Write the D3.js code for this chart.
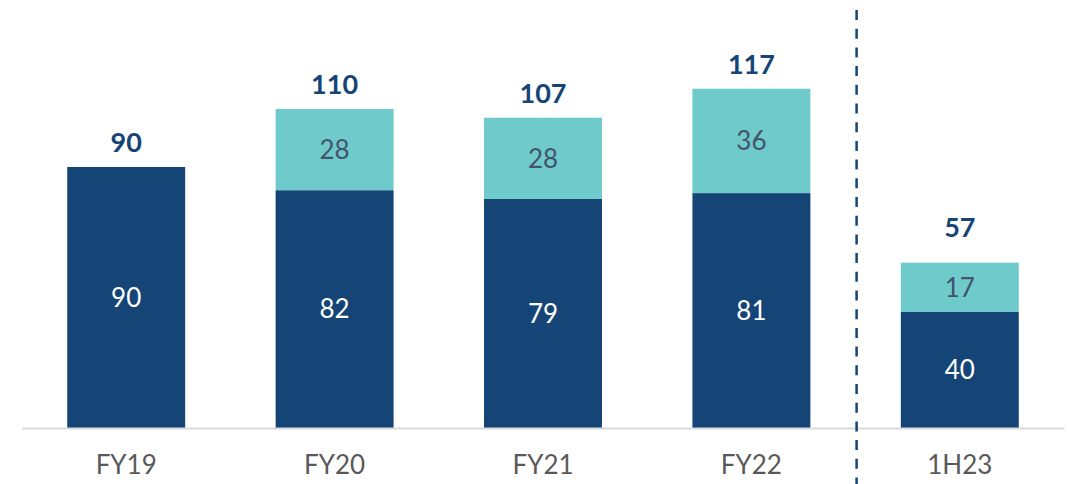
<!DOCTYPE html>
<html>
<head>
<meta charset="utf-8">
<script src="https://cdn.jsdelivr.net/npm/d3@7"></script>
<style>
  body { margin: 0; background: #fff; }
  text { font-family: Lato, "Open Sans", sans-serif; }
</style>
</head>
<body>
<div id="chart"></div>
<script>
var categories = ['FY19', 'FY20', 'FY21', 'FY22', '1H23'];
var baseValues = [90, 82, 79, 81, 40];
var topValues = [0, 28, 28, 36, 17];
var totals = [90, 110, 107, 117, 57];

var width = 1071;
var height = 484;
var baseline = 428;

var navy = '#154577';
var teal = '#6ECACB';

var svg = d3.select('#chart')
    .append('svg')
    .attr('width', width)
    .attr('height', height);

var xScale = d3.scaleBand()
    .domain(categories)
    .range([22, 1064])
    .paddingInner(0.434)
    .paddingOuter(0.217);

var yScale = d3.scaleLinear()
    .domain([0, 140])
    .range([baseline, baseline - 406]);

// bottom (navy) segments
svg.selectAll('rect.base')
    .data(categories)
    .enter()
    .append('rect')
    .attr('class', 'base')
    .attr('x', function (d) { return xScale(d); })
    .attr('width', xScale.bandwidth())
    .attr('y', function (d, i) { return yScale(baseValues[i]); })
    .attr('height', function (d, i) { return yScale(0) - yScale(baseValues[i]); })
    .attr('fill', navy);

// top (teal) segments
svg.selectAll('rect.top')
    .data(categories)
    .enter()
    .append('rect')
    .attr('class', 'top')
    .attr('x', function (d) { return xScale(d); })
    .attr('width', xScale.bandwidth())
    .attr('y', function (d, i) { return yScale(baseValues[i] + topValues[i]); })
    .attr('height', function (d, i) { return yScale(baseValues[i]) - yScale(baseValues[i] + topValues[i]); })
    .attr('fill', teal);

var center = function (d) { return xScale(d) + xScale.bandwidth() / 2; };

svg.selectAll('text.baseLabel')
    .data(categories)
    .enter()
    .append('text')
    .attr('class', 'baseLabel')
    .attr('x', center)
    .attr('y', function (d, i) { return yScale(baseValues[i] / 2); })
    .attr('dy', '0.36em')
    .style('text-anchor', 'middle')
    .style('font-size', '26px')
    .attr('fill', '#ffffff')
    .text(function (d, i) { return baseValues[i]; });

svg.selectAll('text.topLabel')
    .data(categories.filter(function (d, i) { return topValues[i] > 0; }))
    .enter()
    .append('text')
    .attr('class', 'topLabel')
    .attr('x', center)
    .attr('y', function (d) {
        var i = categories.indexOf(d);
        return yScale(baseValues[i] + topValues[i] / 2);
    })
    .attr('dy', '0.36em')
    .style('text-anchor', 'middle')
    .style('font-size', '26px')
    .attr('fill', '#44546A')
    .text(function (d) { return topValues[categories.indexOf(d)]; });

// totals; the half-year panel sits its label a bit higher
svg.selectAll('text.total')
    .data(categories)
    .enter()
    .append('text')
    .attr('class', 'total')
    .attr('x', center)
    .attr('y', function (d, i) { return yScale(totals[i]) - (d === '1H23' ? 26 : 15); })
    .style('text-anchor', 'middle')
    .style('font-size', '27px')
    .style('font-weight', 'bold')
    .attr('fill', navy)
    .text(function (d, i) { return totals[i]; });

// x axis
var xAxis = d3.axisBottom(xScale).tickSize(0).tickPadding(28);

var axisG = svg.append('g')
    .attr('transform', 'translate(0, ' + baseline + ')')
    .call(xAxis);

axisG.select('.domain')
    .attr('stroke', '#D9D9D9')
    .attr('stroke-width', 2);

axisG.selectAll('text')
    .style('font-family', 'Lato, "Open Sans", sans-serif')
    .style('font-size', '26px')
    .attr('fill', '#595959');

// dashed separator between FY22 and 1H23
var sepX = (xScale('FY22') + xScale.bandwidth() + xScale('1H23')) / 2 + 1;
svg.append('line')
    .attr('x1', sepX)
    .attr('x2', sepX)
    .attr('y1', 10)
    .attr('y2', height)
    .attr('stroke', navy)
    .attr('stroke-width', 2.5)
    .attr('stroke-dasharray', '10,8.7');
</script>
</body>
</html>
